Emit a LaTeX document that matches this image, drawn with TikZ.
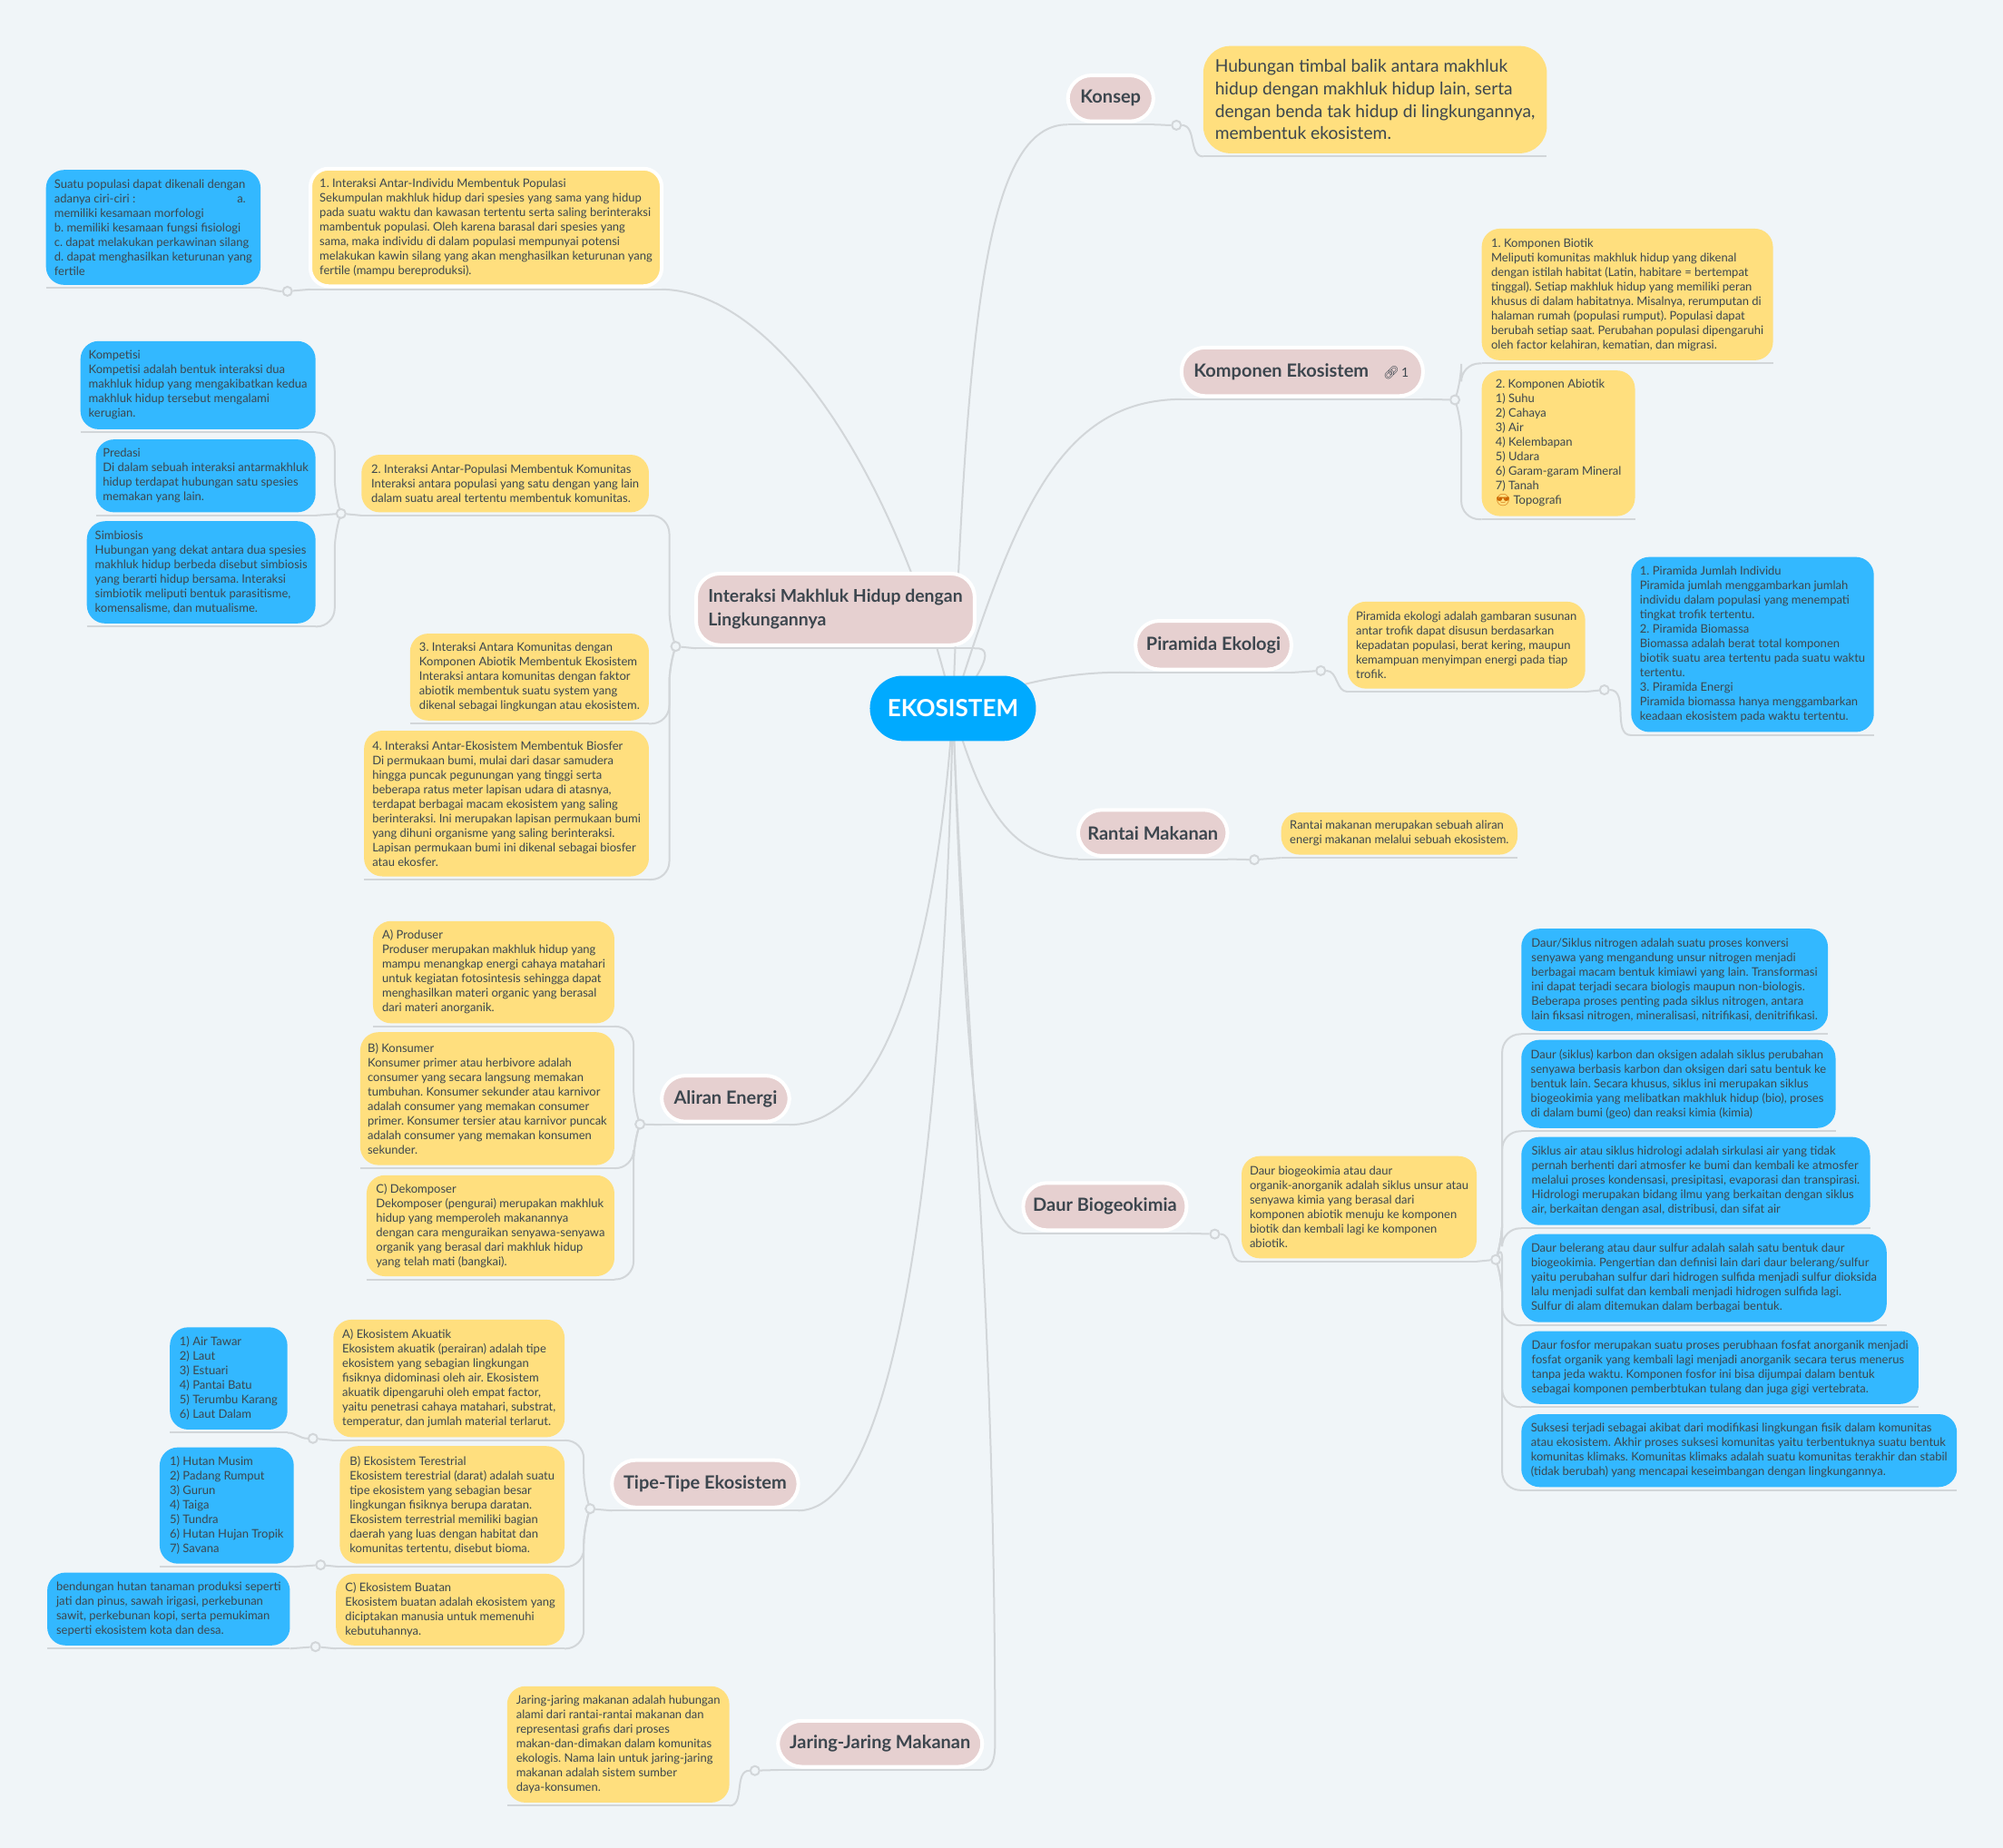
\documentclass[tikz,border=0pt]{standalone}
\usepackage{fontspec}
\setmainfont{Lato}
\newfontfamily\emojifont{Noto Emoji}
\usetikzlibrary{backgrounds}
\definecolor{pagebg}{HTML}{F0F5F8}
\definecolor{linkgray}{HTML}{D2D6D9}
\definecolor{leafyellow}{HTML}{FFDF7E}
\definecolor{leafblue}{HTML}{33B8FF}
\definecolor{rootblue}{HTML}{00AAFF}
\definecolor{topicrose}{HTML}{E6D0D0}
\definecolor{inkgray}{HTML}{3C464E}
\def\u{0.70375pt}
\frenchspacing
\tikzset{
  x=0.70375pt,y=-0.70375pt,
  link/.style={draw=linkgray,line width=1pt},
  elbow/.style={link,rounded corners=10pt},
  knob/.style={circle,draw=linkgray,fill=pagebg,line width=1pt,inner sep=0pt,minimum size=5pt},
  leaf/.style 2 args={anchor=north west,inner xsep=3*\u,inner ysep=0pt,outer sep=0pt,outer ysep=2.5*\u,yshift=2.5*\u,
    minimum width=#1*\u,minimum height=#2*\u,rounded corners=10pt,align=left,text=inkgray,
    font=\fontsize{6.5}{8}\selectfont},
  yellowleaf/.style 2 args={leaf={#1}{#2},fill=leafyellow},
  blueleaf/.style 2 args={leaf={#1}{#2},fill=leafblue},
  topic/.style 2 args={anchor=north west,inner xsep=0pt,inner ysep=0pt,outer sep=0pt,outer ysep=2.5*\u,yshift=2.5*\u,
    minimum width=#1*\u,minimum height=#2*\u,rounded corners=13pt,fill=topicrose,draw=white,line width=2pt,
    align=left,text=inkgray,font=\fontsize{10}{13}\selectfont\bfseries}
}
\begin{document}
\begin{tikzpicture}
  \useasboundingbox (0,0) rectangle (1568.1,1446.6);

  \node[anchor=center,minimum width=130*\u,minimum height=51*\u,rounded corners=18pt,fill=rootblue,text=white,
    font=\fontsize{13}{15}\selectfont\bfseries] (ekosistem) at (746,554.5) {EKOSISTEM};

  \node[topic={67}{36}] (konsep) at (836,59) {Konsep};
  \node[topic={189}{38}] (komponen) at (925,272) {Komponen Ekosistem\hspace{8pt}{\emojifont\fontsize{7}{8}\selectfont\mdseries 🔗}{\fontsize{7}{8}\selectfont\mdseries\,1}\hspace{1pt}};
  \node[topic={122}{38}] (piramida) at (889,486) {Piramida Ekologi};
  \node[topic={117}{36}] (rantai) at (844,634) {Rantai Makanan};
  \node[topic={128}{37}] (daur) at (801,926) {Daur Biogeokimia};
  \node[topic={218}{56},font=\fontsize{9.7}{13}\selectfont\bfseries] (interaksi) at (545,449) {Interaksi Makhluk Hidup dengan\\Lingkungannya};
  \node[topic={100}{36}] (aliran) at (518,842) {Aliran Energi};
  \node[topic={146}{37}] (tipe) at (479,1143) {Tipe-Tipe Ekosistem};
  \node[topic={160}{36}] (jaring) at (609,1347) {Jaring-Jaring Makanan};

  \node[yellowleaf={269}{84},rounded corners=15pt,font=\fontsize{9.6}{12.3}\selectfont] (konsepText) at (942,36) {Hubungan timbal balik antara makhluk\\hidup dengan makhluk hidup lain, serta\\dengan benda tak hidup di lingkungannya,\\membentuk ekosistem.};

  \node[yellowleaf={228}{103}] (biotik) at (1160,179) {1. Komponen Biotik\\Meliputi komunitas makhluk hidup yang dikenal\\dengan istilah habitat (Latin, habitare = bertempat\\tinggal). Setiap makhluk hidup yang memiliki peran\\khusus di dalam habitatnya. Misalnya, rerumputan di\\halaman rumah (populasi rumput). Populasi dapat\\berubah setiap saat. Perubahan populasi dipengaruhi\\oleh factor kelahiran, kematian, dan migrasi.};
  \node[yellowleaf={120}{114}] (abiotik) at (1160,290) {2. Komponen Abiotik\\1) Suhu\\2) Cahaya\\3) Air\\4) Kelembapan\\5) Udara\\6) Garam-garam Mineral\hspace{5pt}\\7) Tanah\\{\emojifont\color{orange!80!black}😎} Topografi};

  \node[yellowleaf={186}{68}] (piramidaText) at (1055,471) {Piramida ekologi adalah gambaran susunan\\antar trofik dapat disusun berdasarkan\\kepadatan populasi, berat kering, maupun\\kemampuan menyimpan energi pada tiap\\trofik.};
  \node[blueleaf={190}{137}] (piramidaJenis) at (1277,436) {1. Piramida Jumlah Individu\\Piramida jumlah menggambarkan jumlah\\individu dalam populasi yang menempati\\tingkat trofik tertentu.\\2. Piramida Biomassa\\Biomassa adalah berat total komponen\\biotik suatu area tertentu pada suatu waktu\\tertentu.\\3. Piramida Energi\\Piramida biomassa hanya menggambarkan\\keadaan ekosistem pada waktu tertentu.};

  \node[yellowleaf={185}{33}] (rantaiText) at (1003,636) {Rantai makanan merupakan sebuah aliran\\energi makanan melalui sebuah ekosistem.};

  \node[yellowleaf={184}{80}] (daurText) at (972,905) {Daur biogeokimia atau daur\\organik-anorganik adalah siklus unsur atau\\senyawa kimia yang berasal dari\\komponen abiotik menuju ke komponen\\biotik dan kembali lagi ke komponen\\abiotik.};
  \node[blueleaf={240}{80}] (nitrogen) at (1191,727) {Daur/Siklus nitrogen adalah suatu proses konversi\\senyawa yang mengandung unsur nitrogen menjadi\\berbagai macam bentuk kimiawi yang lain. Transformasi\\ini dapat terjadi secara biologis maupun non-biologis.\\Beberapa proses penting pada siklus nitrogen, antara\\lain fiksasi nitrogen, mineralisasi, nitrifikasi, denitrifikasi.};
  \node[blueleaf={246}{69}] (karbon) at (1191,814) {Daur (siklus) karbon dan oksigen adalah siklus perubahan\\senyawa berbasis karbon dan oksigen dari satu bentuk ke\\bentuk lain. Secara khusus, siklus ini merupakan siklus\\biogeokimia yang melibatkan makhluk hidup (bio), proses\\di dalam bumi (geo) dan reaksi kimia (kimia)};
  \node[blueleaf={273}{69}] (airSiklus) at (1191,890) {Siklus air atau siklus hidrologi adalah sirkulasi air yang tidak\\pernah berhenti dari atmosfer ke bumi dan kembali ke atmosfer\\melalui proses kondensasi, presipitasi, evaporasi dan transpirasi.\\Hidrologi merupakan bidang ilmu yang berkaitan dengan siklus\\air, berkaitan dengan asal, distribusi, dan sifat air};
  \node[blueleaf={286}{69}] (belerang) at (1191,966) {Daur belerang atau daur sulfur adalah salah satu bentuk daur\\biogeokimia. Pengertian dan definisi lain dari daur belerang/sulfur\\yaitu perubahan sulfur dari hidrogen sulfida menjadi sulfur dioksida\\lalu menjadi sulfat dan kembali menjadi hidrogen sulfida lagi.\\Sulfur di alam ditemukan dalam berbagai bentuk.};
  \node[blueleaf={311}{57}] (fosfor) at (1191,1042) {Daur fosfor merupakan suatu proses perubhaan fosfat anorganik menjadi\\fosfat organik yang kembali lagi menjadi anorganik secara terus menerus\\tanpa jeda waktu. Komponen fosfor ini bisa dijumpai dalam bentuk\\sebagai komponen pemberbtukan tulang dan juga gigi vertebrata.};
  \node[blueleaf={341}{57}] (suksesi) at (1191,1107) {Suksesi terjadi sebagai akibat dari modifikasi lingkungan fisik dalam komunitas\\atau ekosistem. Akhir proses suksesi komunitas yaitu terbentuknya suatu bentuk\\komunitas klimaks. Komunitas klimaks adalah suatu komunitas terakhir dan stabil\\(tidak berubah) yang mencapai keseimbangan dengan lingkungannya.};

  \node[yellowleaf={275}{92},draw=white,line width=2pt] (individu) at (243,132) {1. Interaksi Antar-Individu Membentuk Populasi\\Sekumpulan makhluk hidup dari spesies yang sama yang hidup\\pada suatu waktu dan kawasan tertentu serta saling berinteraksi\\mambentuk populasi. Oleh karena barasal dari spesies yang\\sama, maka individu di dalam populasi mempunyai potensi\\melakukan kawin silang yang akan menghasilkan keturunan yang\\fertile (mampu bereproduksi).};
  \node[blueleaf={168}{90}] (ciri) at (36,133) {Suatu populasi dapat dikenali dengan\\adanya ciri-ciri :\hspace{56pt}a.\\memiliki kesamaan morfologi\\b. memiliki kesamaan fungsi fisiologi\\c. dapat melakukan perkawinan silang\\d. dapat menghasilkan keturunan yang\\fertile};

  \node[yellowleaf={225}{45}] (populasi) at (283,356) {2. Interaksi Antar-Populasi Membentuk Komunitas\\Interaksi antara populasi yang satu dengan yang lain\\dalam suatu areal tertentu membentuk komunitas.};
  \node[blueleaf={184}{69}] (kompetisi) at (63,267) {Kompetisi\\Kompetisi adalah bentuk interaksi dua\\makhluk hidup yang mengakibatkan kedua\\makhluk hidup tersebut mengalami\\kerugian.};
  \node[blueleaf={172}{57}] (predasi) at (75,344) {Predasi\\Di dalam sebuah interaksi antarmakhluk\\hidup terdapat hubungan satu spesies\\memakan yang lain.};
  \node[blueleaf={179}{80}] (simbiosis) at (68,408) {Simbiosis\\Hubungan yang dekat antara dua spesies\\makhluk hidup berbeda disebut simbiosis\\yang berarti hidup bersama. Interaksi\\simbiotik meliputi bentuk parasitisme,\\komensalisme, dan mutualisme.};
  \node[yellowleaf={187}{68}] (komunitas) at (321,496) {3. Interaksi Antara Komunitas dengan\\Komponen Abiotik Membentuk Ekosistem\\Interaksi antara komunitas dengan faktor\\abiotik membentuk suatu system yang\\dikenal sebagai lingkungan atau ekosistem.};
  \node[yellowleaf={223}{114}] (biosfer) at (285,572) {4. Interaksi Antar-Ekosistem Membentuk Biosfer\\Di permukaan bumi, mulai dari dasar samudera\\hingga puncak pegunungan yang tinggi serta\\beberapa ratus meter lapisan udara di atasnya,\\terdapat berbagai macam ekosistem yang saling\\berinteraksi. Ini merupakan lapisan permukaan bumi\\yang dihuni organisme yang saling berinteraksi.\\Lapisan permukaan bumi ini dikenal sebagai biosfer\\atau ekosfer.};

  \node[yellowleaf={189}{80}] (produser) at (292,721) {A) Produser\\Produser merupakan makhluk hidup yang\\mampu menangkap energi cahaya matahari\\untuk kegiatan fotosintesis sehingga dapat\\menghasilkan materi organic yang berasal\\dari materi anorganik.\hspace{1pt}};
  \node[yellowleaf={199}{104}] (konsumer) at (282,808) {B) Konsumer\\Konsumer primer atau herbivore adalah\\consumer yang secara langsung memakan\\tumbuhan. Konsumer sekunder atau karnivor\\adalah consumer yang memakan consumer\\primer. Konsumer tersier atau karnivor puncak\\adalah consumer yang memakan konsumen\\sekunder.};
  \node[yellowleaf={194}{79}] (dekomposer) at (287,920) {C) Dekomposer\\Dekomposer (pengurai) merupakan makhluk\\hidup yang memperoleh makanannya\\dengan cara menguraikan senyawa-senyawa\\organik yang berasal dari makhluk hidup\\yang telah mati (bangkai).};

  \node[yellowleaf={181}{92}] (akuatik) at (261,1033) {A) Ekosistem Akuatik\\Ekosistem akuatik (perairan) adalah tipe\\ekosistem yang sebagian lingkungan\\fisiknya didominasi oleh air. Ekosistem\\akuatik dipengaruhi oleh empat factor,\\yaitu penetrasi cahaya matahari, substrat,\\temperatur, dan jumlah material terlarut.};
  \node[blueleaf={92}{80}] (akuatikList) at (133,1039) {1) Air Tawar\\2) Laut\\3) Estuari\\4) Pantai Batu\\5) Terumbu Karang\\6) Laut Dalam};
  \node[yellowleaf={176}{92}] (terestrial) at (266,1132) {B) Ekosistem Terestrial\\Ekosistem terestrial (darat) adalah suatu\\tipe ekosistem yang sebagian besar\\lingkungan fisiknya berupa daratan.\\Ekosistem terrestrial memiliki bagian\\daerah yang luas dengan habitat dan\\komunitas tertentu, disebut bioma.};
  \node[blueleaf={105}{91}] (terestrialList) at (125,1133) {1) Hutan Musim\\2) Padang Rumput\\3) Gurun\\4) Taiga\\5) Tundra\\6) Hutan Hujan Tropik\\7) Savana};
  \node[yellowleaf={179}{56}] (buatan) at (263,1232) {C) Ekosistem Buatan\\Ekosistem buatan adalah ekosistem yang\\diciptakan manusia untuk memenuhi\\kebutuhannya.};
  \node[blueleaf={190}{57}] (buatanList) at (37,1231) {bendungan hutan tanaman produksi seperti\\jati dan pinus, sawah irigasi, perkebunan\\sawit, perkebunan kopi, serta pemukiman\\seperti ekosistem kota dan desa.};

  \node[yellowleaf={174}{91}] (jaringText) at (397,1320) {Jaring-jaring makanan adalah hubungan\\alami dari rantai-rantai makanan dan\\representasi grafis dari proses\\makan-dan-dimakan dalam komunitas\\ekologis. Nama lain untuk jaring-jaring\\makanan adalah sistem sumber\\daya-konsumen.};

  \node[knob] (konsepKnob) at (921,98) {};
  \node[knob] (komponenKnob) at (1139,313) {};
  \node[knob] (piramidaKnob) at (1034,525) {};
  \node[knob] (jenisKnob) at (1256,540) {};
  \node[knob] (rantaiKnob) at (982,673) {};
  \node[knob] (daurKnob) at (951,966) {};
  \node[knob] (siklusKnob) at (1171,986) {};
  \node[knob] (individuKnob) at (225,228) {};
  \node[knob] (interaksiKnob) at (529,506) {};
  \node[knob] (populasiKnob) at (267,402) {};
  \node[knob] (aliranKnob) at (501,880) {};
  \node[knob] (tipeKnob) at (462,1181) {};
  \node[knob] (akuatikKnob) at (245,1126) {};
  \node[knob] (terestrialKnob) at (251,1225) {};
  \node[knob] (buatanKnob) at (247,1289) {};
  \node[knob] (jaringKnob) at (591,1386) {};

  \begin{scope}[on background layer]
    \fill[pagebg] (0,0) rectangle (1568.1,1446.6);

    \foreach \n in {konsep,komponen,piramida,rantai,daur,interaksi,aliran,tipe,jaring,
      konsepText,biotik,abiotik,piramidaText,piramidaJenis,rantaiText,daurText,
      nitrogen,karbon,airSiklus,belerang,fosfor,suksesi,individu,ciri,populasi,
      kompetisi,predasi,simbiosis,komunitas,biosfer,produser,konsumer,dekomposer,
      akuatik,akuatikList,terestrial,terestrialList,buatan,buatanList,jaringText}
      \draw[link] (\n.south west) -- (\n.south east);

    \draw[link] (ekosistem.center) .. controls (757,250) and (772,97) .. (konsep.south west);
    \draw[link] (ekosistem.center) .. controls (795,400) and (830,313) .. (komponen.south west);
    \draw[link] (ekosistem.center) .. controls (800,532) and (845,525) .. (piramida.south west);
    \draw[link] (ekosistem.center) .. controls (770,640) and (795,672) .. (rantai.south west);
    \draw[link] (ekosistem.center) .. controls (755,800) and (762,965) .. (daur.south west);
    \draw[link] (ekosistem.center) .. controls (755,800) and (779,1000) .. (779,1365) .. controls (779,1380) and (775,1385) .. (jaring.south east);
    \draw[link] (ekosistem.center) .. controls (735,720) and (700,880) .. (aliran.south east);
    \draw[link] (ekosistem.center) .. controls (740,850) and (710,1182) .. (tipe.south east);
    \draw[link] (ekosistem.center) .. controls (705,380) and (610,228) .. (individu.south east);
    \draw[link] (ekosistem.center) .. controls (762,535) and (783,506) .. (interaksi.south east);

    \draw[link] (konsep.south east) to[out=0,in=180] (konsepKnob);
    \draw[link] (konsepKnob) to[out=0,in=180] (konsepText.south west);
    \draw[link] (komponen.south east) -- (komponenKnob);
    \draw[elbow] (komponenKnob.center) -- ++(5,-14) |- (biotik.south west);
    \draw[elbow] (komponenKnob.center) -- ++(5,14) |- (abiotik.south west);
    \draw[link] (piramida.south east) -- (piramidaKnob);
    \draw[link] (piramidaKnob) to[out=0,in=180] (piramidaText.south west);
    \draw[link] (piramidaText.south east) -- (jenisKnob);
    \draw[link] (jenisKnob) to[out=0,in=180] (piramidaJenis.south west);
    \draw[link] (rantai.south east) -- (rantaiKnob);
    \draw[link] (rantaiKnob) -- (rantaiText.south west);
    \draw[link] (daur.south east) -- (daurKnob);
    \draw[link] (daurKnob) to[out=0,in=180] (daurText.south west);
    \draw[link] (daurText.south east) -- (siklusKnob);
    \foreach \n in {nitrogen,karbon,airSiklus,belerang}
      \draw[elbow] (siklusKnob.center) -- ++(5,-14) |- (\n.south west);
    \foreach \n in {fosfor,suksesi}
      \draw[elbow] (siklusKnob.center) -- ++(5,14) |- (\n.south west);

    \draw[link] (individu.south west) -- (individuKnob);
    \draw[link] (individuKnob) to[out=180,in=0] (ciri.south east);
    \draw[link] (interaksi.south west) -- (interaksiKnob);
    \draw[elbow] (interaksiKnob.center) -- ++(-5,-14) |- (populasi.south east);
    \foreach \n in {komunitas,biosfer}
      \draw[elbow] (interaksiKnob.center) -- ++(-5,14) |- (\n.south east);
    \draw[link] (populasi.south west) -- (populasiKnob);
    \draw[elbow] (populasiKnob.center) -- ++(-5,-14) |- (kompetisi.south east);
    \draw[link] (populasiKnob) -- (predasi.south east);
    \draw[elbow] (populasiKnob.center) -- ++(-5,14) |- (simbiosis.south east);

    \draw[link] (aliran.south west) -- (aliranKnob);
    \draw[elbow] (aliranKnob.center) -- ++(-5,-14) |- (produser.south east);
    \draw[elbow] (aliranKnob.center) -- ++(-5,14) |- (konsumer.south east);
    \draw[elbow] (aliranKnob.center) -- ++(-5,14) |- (dekomposer.south east);

    \draw[link] (tipe.south west) -- (tipeKnob);
    \draw[elbow] (tipeKnob.center) -- ++(-5,-14) |- (akuatik.south east);
    \draw[elbow] (tipeKnob.center) -- ++(-5,14) |- (terestrial.south east);
    \draw[elbow] (tipeKnob.center) -- ++(-5,14) |- (buatan.south east);
    \draw[link] (akuatik.south west) -- (akuatikKnob);
    \draw[link] (akuatikKnob) to[out=180,in=0] (akuatikList.south east);
    \draw[link] (terestrial.south west) -- (terestrialKnob);
    \draw[link] (terestrialKnob) -- (terestrialList.south east);
    \draw[link] (buatan.south west) -- (buatanKnob);
    \draw[link] (buatanKnob) -- (buatanList.south east);

    \draw[link] (jaring.south west) -- (jaringKnob);
    \draw[link] (jaringKnob) to[out=180,in=0] (jaringText.south east);
  \end{scope}
\end{tikzpicture}
\end{document}
